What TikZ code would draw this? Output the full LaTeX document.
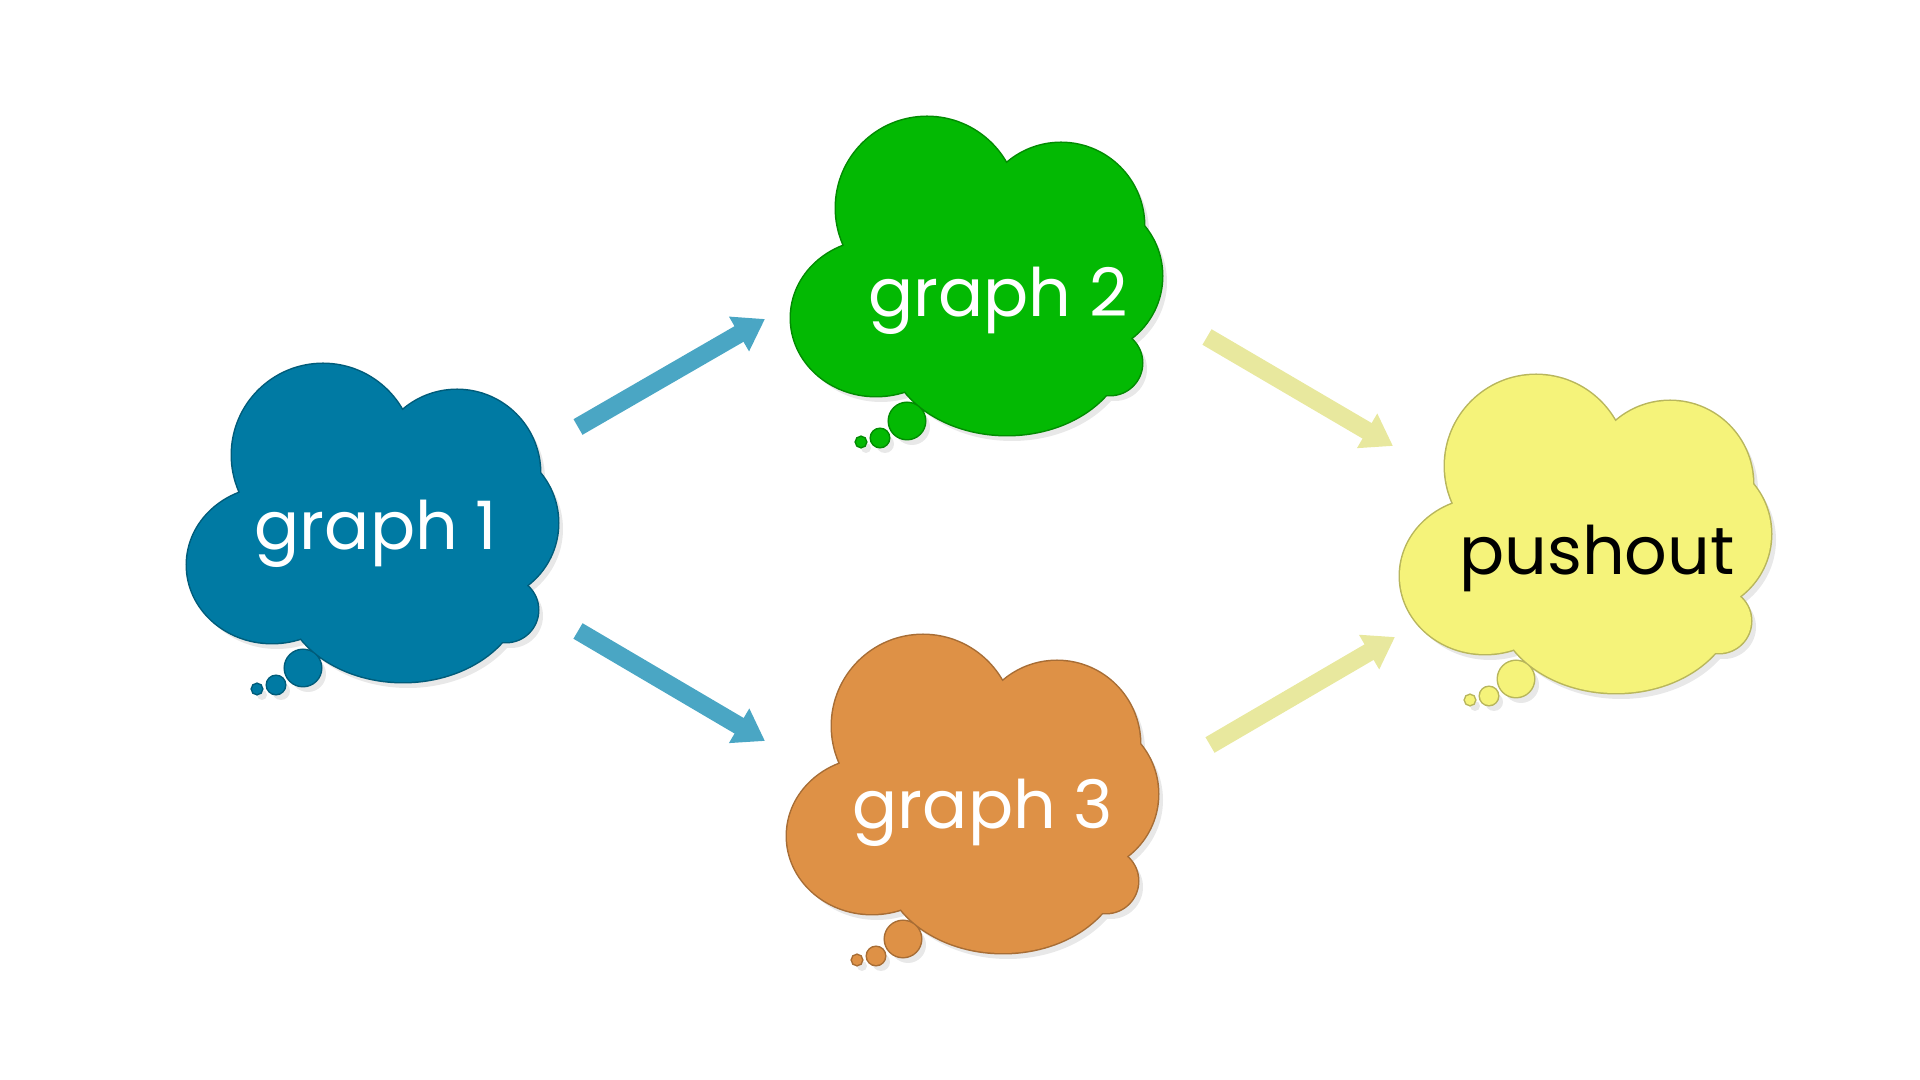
\documentclass[tikz,border=0pt]{standalone}
\usepackage{fontspec}
\setmainfont{Poppins}
\usetikzlibrary{arrows.meta}
\definecolor{cloudblue}{RGB}{0,122,163}
\definecolor{cloudgreen}{RGB}{3,185,3}
\definecolor{cloudorange}{RGB}{222,145,70}
\definecolor{cloudyellow}{RGB}{245,243,122}
\definecolor{arrowblue}{RGB}{74,166,196}
\definecolor{arrowyellow}{RGB}{232,232,158}
\newcommand\cloudpath{(-53,-72) circle[radius=91] (81,-54) circle[radius=83]
  (104,-4) circle[radius=78] (130,83) circle[radius=32]
  (27,63) ellipse[x radius=120, y radius=92] (-104,38) ellipse[x radius=85, y radius=78]
  (0,10) circle[radius=100] (95,55) circle[radius=45]
  (-73,141) circle[radius=18] (-100,158) circle[radius=9] (-119,162) circle[radius=5]}
\tikzset{
	x=0.01cm, y=-0.01cm,
	pics/cloud/.style={code={
		\fill[black!9] [shift={(5,6)}] \cloudpath;
		\draw[#1!75!black, line width=0.03cm] \cloudpath;
		\fill[#1] \cloudpath;
	}},
	cloudtext/.style={font=\fontsize{19}{23}\selectfont, inner sep=0pt},
	fatarrow/.style={line width=0.18cm, -{Triangle[width=0.38cm, length=0.30cm]}},
	bluearrow/.style={fatarrow, arrowblue},
	yellowarrow/.style={fatarrow, arrowyellow}}

\begin{document}
\begin{tikzpicture}
	\useasboundingbox (0,0) rectangle (1920,1080);
	
	% clouds
	\pic at (376,527) {cloud=cloudblue};
	\pic at (980,280) {cloud=cloudgreen};
	\pic at (976,798) {cloud=cloudorange};
	\pic at (1589,538) {cloud=cloudyellow};
	
	% labels
	\node[cloudtext, text=white] (g1) at (376,534) {graph 1};
	\node[cloudtext, text=white] (g2) at (998,301) {graph 2};
	\node[cloudtext, text=white] (g3) at (983,813) {graph 3};
	\node[cloudtext, text=black] (po) at (1597,558) {pushout};
	
	% arrows
	\draw[bluearrow] ([shift={(202,-107)}]g1.center) -- ([shift={(-233,18)}]g2.center);
	\draw[bluearrow] ([shift={(202,97)}]g1.center) -- ([shift={(-218,-72)}]g3.center);
	\draw[yellowarrow] ([shift={(209,36)}]g2.center) -- ([shift={(-204,-112)}]po.center);
	\draw[yellowarrow] ([shift={(227,-68)}]g3.center) -- ([shift={(-202,79)}]po.center);
\end{tikzpicture}
\end{document}
